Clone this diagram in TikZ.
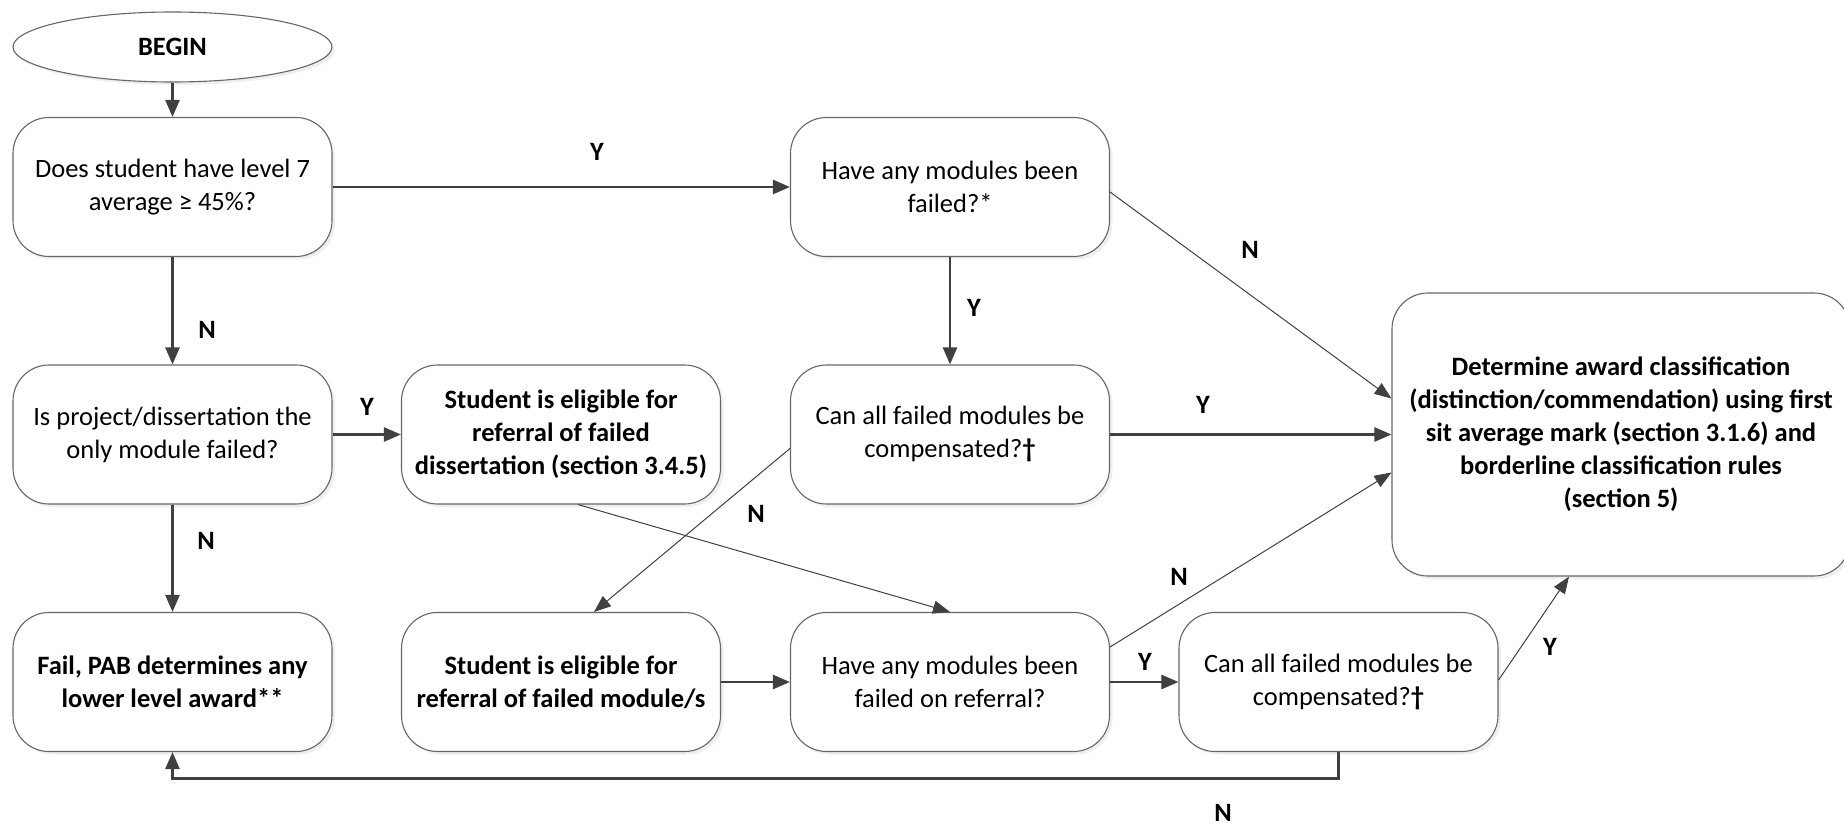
\documentclass[tikz,border=0pt]{standalone}
\usepackage{fontspec}
\setmainfont{Carlito}
\usetikzlibrary{arrows.meta,calc,shapes.geometric,shadows}

\begin{document}
\begin{tikzpicture}[x=1pt,y=-1pt,font=\fontsize{26.5}{33}\selectfont,
    box/.style={draw=black!60,line width=1.1pt,rounded corners=36pt,minimum width=319pt,minimum height=139pt,align=center,fill=white,drop shadow={shadow xshift=3pt,shadow yshift=-3pt,fill=black!12}},
    thick/.style={draw=black!75,line width=2.5pt,-{Triangle[length=17pt,width=14pt]}},
    thin/.style={draw=black!75,line width=1pt,-{Triangle[length=17pt,width=13pt]}},
    lbl/.style={font=\fontsize{26.5}{33}\selectfont\bfseries}]
    \useasboundingbox (0,0) rectangle (1844,826);
    % nodes
    \node[box,ellipse,rounded corners=0pt,minimum height=70pt] (begin) at (172.5,47) {\textbf{BEGIN}};
    \node[box] (avg) at (172.5,187) {Does student have level 7\\average ≥ 45\%?};
    \node[box] (proj) at (172.5,434.5) {Is project/dissertation the\\only module failed?};
    \node[box,font=\fontsize{26.5}{33}\selectfont\bfseries] (fail) at (172.5,682) {Fail, PAB determines any\\lower level award**};
    \node[box,font=\fontsize{26.5}{33}\selectfont\bfseries] (refdis) at (561,434.5) {Student is eligible for\\referral of failed\\dissertation (section 3.4.5)};
    \node[box,font=\fontsize{26.5}{33}\selectfont\bfseries] (refmod) at (561,682) {Student is eligible for\\referral of failed module/s};
    \node[box] (anyf) at (950,187) {Have any modules been\\failed?*};
    \node[box] (comp) at (950,434.5) {Can all failed modules be\\compensated?\textbf{†}};
    \node[box] (reff) at (950,682) {Have any modules been\\failed on referral?};
    \node[box] (comp2) at (1338.5,682) {Can all failed modules be\\compensated?\textbf{†}};
    \node[box,minimum width=458pt,minimum height=283pt,font=\fontsize{26.5}{33}\selectfont\bfseries] (award) at (1621,434.5) {Determine award classification\\(distinction/commendation) using first\\sit average mark (section 3.1.6) and\\borderline classification rules\\(section 5)};
    % connectors
    \draw[thick] (begin) -- (avg);
    \draw[thick] (avg) -- (anyf);
    \draw[thick] (avg) -- (proj);
    \draw[thick] (proj) -- (refdis);
    \draw[thick] (proj) -- (fail);
    \draw[thick] (anyf) -- (comp);
    \draw[thin] ($(anyf.east)+(0,5)$) -- ($(award.west)+(0,-36)$);
    \draw[thick] (comp) -- (award);
    \draw[thin] ($(comp.west)+(0,14)$) -- ($(refmod.north)+(33,0)$);
    \draw[thin] ($(refdis.south)+(17,0)$) -- (reff.north);
    \draw[thick] (refmod) -- (reff);
    \draw[thin] ($(reff.east)+(0,-35)$) -- ($(award.west)+(0,38)$);
    \draw[thick] (reff) -- (comp2);
    \draw[thin] ($(comp2.east)+(0,-2)$) -- ($(award.south)+(-52,0)$);
    \draw[thick] (comp2.south) -- ++(0,26.5) -| (fail.south);
    % labels
    \node[lbl] (y1) at (597,152) {Y};
    \node[lbl] (n1) at (207,330) {N};
    \node[lbl] (y2) at (367,407) {Y};
    \node[lbl] (n2) at (206,541) {N};
    \node[lbl] (y3) at (974,308) {Y};
    \node[lbl] (n3) at (1250,250) {N};
    \node[lbl] (y4) at (1203,405) {Y};
    \node[lbl] (n4) at (756,514) {N};
    \node[lbl] (n5) at (1179,577) {N};
    \node[lbl] (y5) at (1145,662) {Y};
    \node[lbl] (y6) at (1550,647) {Y};
    \node[lbl] (n6) at (1223,813) {N};
\end{tikzpicture}
\end{document}
